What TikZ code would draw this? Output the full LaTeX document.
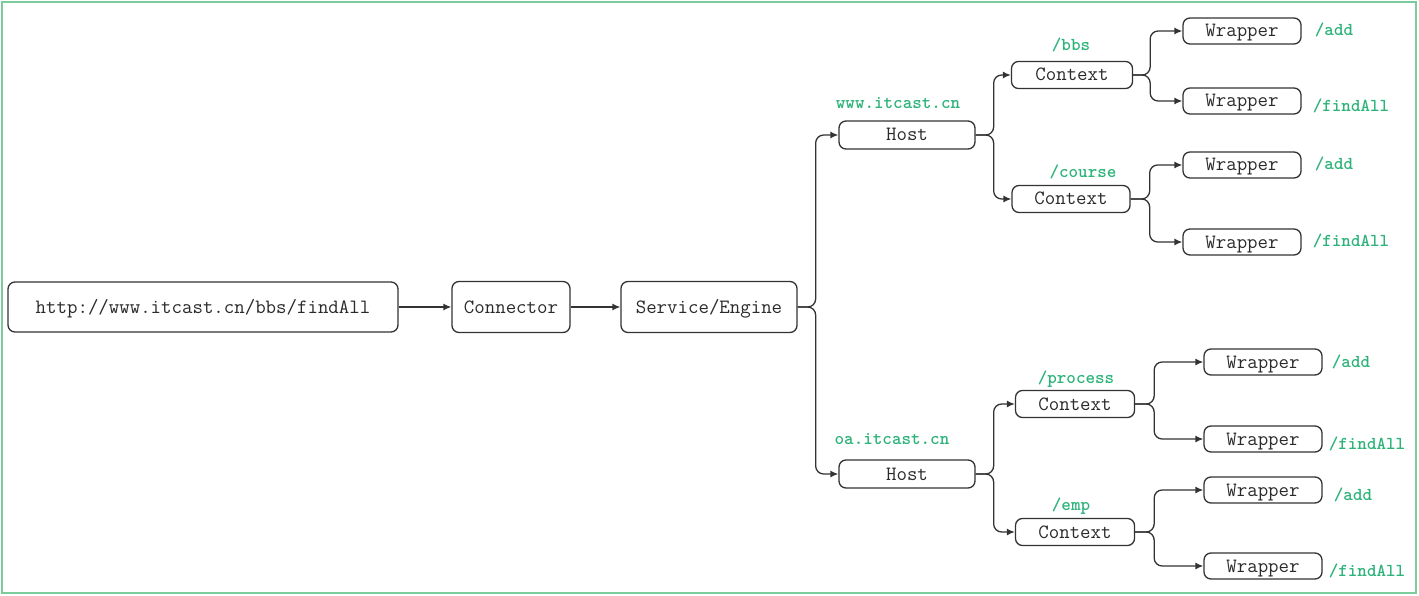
\documentclass[tikz,border=0pt]{standalone}
\usepackage{fontspec}
\usetikzlibrary{arrows.meta}
\definecolor{frame}{HTML}{7CCB9C}
\definecolor{boxline}{HTML}{333333}
\definecolor{boxtext}{HTML}{2A2A2A}
\definecolor{tagcol}{HTML}{2DB37A}
\tikzset{
  box/.style={draw=boxline, line width=1.3pt, rounded corners=7pt, fill=white,
    text=boxtext, font=\ttfamily\fontsize{20.3}{22}\selectfont, inner sep=0pt,
    text height=12pt, text depth=0pt, minimum height=27pt},
  tag/.style={text=tagcol, font=\ttfamily\bfseries\fontsize{18.2}{20}\selectfont,
    inner sep=0pt, text height=11pt, text depth=0pt},
  link/.style={draw=boxline, line width=1.3pt, rounded corners=8pt,
    -{Latex[length=8pt,width=7pt]}},
}
\begin{document}
\begin{tikzpicture}[x=1pt,y=-1pt]
  \useasboundingbox (0,0) rectangle (1419,596);
  \draw[frame, line width=1.2pt] (2,2) rectangle (1416,593);

  % main chain
  \node[box, minimum width=390pt, minimum height=50pt] (url) at (203,307) {http://www.itcast.cn/bbs/findAll};
  \node[box, minimum width=118pt, minimum height=51pt] (conn) at (511,307) {Connector};
  \node[box, minimum width=176pt, minimum height=51pt] (se) at (709,307) {Service/Engine};

  % hosts
  \node[box, minimum width=136pt, minimum height=28pt] (h1) at (907,135) {Host};
  \node[box, minimum width=136pt, minimum height=28pt] (h2) at (907,474) {Host};

  % contexts
  \node[box, minimum width=121pt] (c1) at (1072,75) {Context};
  \node[box, minimum width=118pt] (c2) at (1071,199) {Context};
  \node[box, minimum width=119pt] (c3) at (1075,404) {Context};
  \node[box, minimum width=119pt] (c4) at (1075,532) {Context};

  % wrappers
  \node[box, minimum width=118pt, minimum height=26pt] (w1) at (1242,31) {Wrapper};
  \node[box, minimum width=118pt, minimum height=26pt] (w2) at (1242,101) {Wrapper};
  \node[box, minimum width=118pt, minimum height=26pt] (w3) at (1242,165) {Wrapper};
  \node[box, minimum width=118pt, minimum height=26pt] (w4) at (1242,242) {Wrapper};
  \node[box, minimum width=118pt, minimum height=26pt] (w5) at (1263,362) {Wrapper};
  \node[box, minimum width=118pt, minimum height=26pt] (w6) at (1263,439) {Wrapper};
  \node[box, minimum width=118pt, minimum height=26pt] (w7) at (1263,490) {Wrapper};
  \node[box, minimum width=118pt, minimum height=26pt] (w8) at (1263,566) {Wrapper};

  % labels
  \node[tag] (t1) at (898,103) {www.itcast.cn};
  \node[tag] (t2) at (892,439) {oa.itcast.cn};
  \node[tag] (t3) at (1071,45) {/bbs};
  \node[tag] (t4) at (1083,172) {/course};
  \node[tag] (t5) at (1076,378) {/process};
  \node[tag] (t6) at (1071,505) {/emp};
  \node[tag] (t7) at (1334,30) {/add};
  \node[tag] (t8) at (1351,106) {/findAll};
  \node[tag] (t9) at (1334,164) {/add};
  \node[tag] (t10) at (1351,241) {/findAll};
  \node[tag] (t11) at (1351,362) {/add};
  \node[tag] (t12) at (1367,444) {/findAll};
  \node[tag] (t13) at (1353,495) {/add};
  \node[tag] (t14) at (1367,571) {/findAll};

  % connectors
  \draw[link] (url.east) -- (conn.west);
  \draw[link] (conn.east) -- (se.west);
  \draw[link] (se.east) -- ++(18,0) |- (h1.west);
  \draw[link] (se.east) -- ++(18,0) |- (h2.west);
  \draw[link] (h1.east) -- ++(18,0) |- (c1.west);
  \draw[link] (h1.east) -- ++(18,0) |- (c2.west);
  \draw[link] (h2.east) -- ++(18,0) |- (c3.west);
  \draw[link] (h2.east) -- ++(18,0) |- (c4.west);
  \draw[link] (c1.east) -- ++(17,0) |- (w1.west);
  \draw[link] (c1.east) -- ++(17,0) |- (w2.west);
  \draw[link] (c2.east) -- ++(19,0) |- (w3.west);
  \draw[link] (c2.east) -- ++(19,0) |- (w4.west);
  \draw[link] (c3.east) -- ++(19,0) |- (w5.west);
  \draw[link] (c3.east) -- ++(19,0) |- (w6.west);
  \draw[link] (c4.east) -- ++(19,0) |- (w7.west);
  \draw[link] (c4.east) -- ++(19,0) |- (w8.west);
\end{tikzpicture}
\end{document}
